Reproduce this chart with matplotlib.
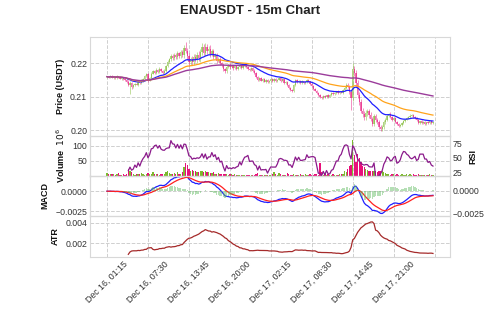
import numpy as np
import pandas as pd
import matplotlib
matplotlib.use('Agg')
import matplotlib.pyplot as plt

# ENAUSDT 15m candles, Dec 16 01:15 -> Dec 18 03:00 (200 bars)
close = [
    0.2160, 0.2158, 0.2162, 0.2157, 0.2160, 0.2156, 0.2161, 0.2158, 0.2154, 0.2157,
    0.2152, 0.2149, 0.2145, 0.2136, 0.2141, 0.2128, 0.2134, 0.2139, 0.2136, 0.2143,
    0.2140, 0.2148, 0.2152, 0.2161, 0.2167, 0.2149, 0.2156, 0.2169, 0.2177, 0.2171,
    0.2181, 0.2175, 0.2184, 0.2177, 0.2171, 0.2178, 0.2192, 0.2205, 0.2212, 0.2222,
    0.2215, 0.2226, 0.2218, 0.2230, 0.2222, 0.2233, 0.2224, 0.2245, 0.2238, 0.2222,
    0.2203, 0.2212, 0.2204, 0.2220, 0.2210, 0.2226, 0.2215, 0.2235, 0.2248, 0.2232,
    0.2250, 0.2236, 0.2244, 0.2228, 0.2236, 0.2220, 0.2224, 0.2208, 0.2213, 0.2200,
    0.2195, 0.2184, 0.2176, 0.2190, 0.2196, 0.2188, 0.2193, 0.2185, 0.2191, 0.2183,
    0.2189, 0.2193, 0.2186, 0.2191, 0.2197, 0.2188, 0.2184, 0.2179, 0.2186, 0.2178,
    0.2172, 0.2160, 0.2150, 0.2156, 0.2148, 0.2153, 0.2145, 0.2151, 0.2143, 0.2148,
    0.2153, 0.2147, 0.2154, 0.2146, 0.2151, 0.2156, 0.2148, 0.2152, 0.2140, 0.2145,
    0.2135, 0.2127, 0.2120, 0.2117, 0.2135, 0.2150, 0.2144, 0.2148, 0.2141, 0.2146,
    0.2140, 0.2145, 0.2151, 0.2146, 0.2138, 0.2131, 0.2124, 0.2118, 0.2111, 0.2104,
    0.2099, 0.2096, 0.2102, 0.2098, 0.2104, 0.2100, 0.2106, 0.2111, 0.2107, 0.2112,
    0.2116, 0.2110, 0.2115, 0.2112, 0.2119, 0.2127, 0.2136, 0.2130, 0.2114, 0.2096,
    0.2182, 0.2172, 0.2140, 0.2104, 0.2084, 0.2058, 0.2049, 0.2038, 0.2050, 0.2056,
    0.2044, 0.2034, 0.2018, 0.2041, 0.2030, 0.2024, 0.2009, 0.2002, 0.2009, 0.2023,
    0.2031, 0.2043, 0.2049, 0.2040, 0.2031, 0.2036, 0.2025, 0.2017, 0.2011, 0.2015,
    0.2021, 0.2026, 0.2031, 0.2035, 0.2039, 0.2043, 0.2046, 0.2040, 0.2035, 0.2029,
    0.2021, 0.2026, 0.2020, 0.2024, 0.2018, 0.2023, 0.2020, 0.2026, 0.2021, 0.2023,
]

# wick lengths above / below the body, in 0.0001 USDT
upper_wick = [
    2, 3, 2, 3, 2, 2, 3, 2, 3, 2, 3, 2, 3, 4, 5, 3, 3, 2, 3, 3, 2, 4, 3, 5, 3, 4, 3, 5, 4, 3, 4, 3, 5, 3, 3, 4,
    4, 5, 4, 6, 5, 6, 4, 6, 5, 7, 6,
    10, 20, 9, 8, 7, 10, 8, 9, 7, 10, 9, 14, 9, 10, 8, 9, 10, 8, 7, 8,
    6, 5, 5, 4, 5, 3, 4, 3, 4, 3, 3, 4, 3, 3, 4, 3, 3, 4, 3, 3, 2, 3, 3, 4,
    3, 3, 2, 3, 2, 3, 2, 3, 2, 3, 3, 2, 3, 2, 3, 2, 3, 2, 3, 2, 3, 2, 3, 3, 4, 3, 3, 2, 3, 2,
    3, 2, 3, 2, 2, 3, 2, 3, 2, 3, 2, 3, 3, 2, 3, 2, 3, 2, 3, 2, 3, 3, 2, 3, 4, 4, 5,
    5, 6, 18, 10, 8, 9, 10, 8, 9, 7, 10, 8, 7, 9, 6, 8, 6, 7, 5, 6, 5, 6, 5,
    4, 3, 4, 3, 3, 4, 3, 3, 2, 3, 3, 2, 3, 3, 4, 3, 3, 2, 3, 3, 2, 3, 2, 3, 2, 3, 2, 3, 2,
]
lower_wick = [
    3, 2, 3, 2, 3, 2, 2, 3, 2, 3, 3, 3, 4, 5, 27, 4, 3, 3, 2, 3, 3, 2, 3, 3, 3, 4, 3, 3, 2, 4, 3, 3, 4, 3, 4, 3,
    4, 4, 5, 4, 6, 5, 6, 4, 6, 5, 6,
    9, 8, 11, 10, 9, 8, 10, 7, 9, 8, 10, 9, 8, 10, 9, 8, 9, 7, 8, 7,
    6, 5, 6, 5, 7, 4, 5, 3, 4, 3, 4, 3, 3, 4, 3, 3, 4, 3, 3, 4, 3, 3, 4, 3,
    3, 2, 3, 2, 3, 2, 3, 2, 3, 3, 2, 3, 2, 3, 2, 3, 2, 3, 3, 2, 3, 4, 3, 2, 3, 2, 3, 2, 3, 2,
    3, 3, 2, 3, 2, 3, 2, 3, 2, 4, 3, 2, 3, 2, 3, 2, 3, 2, 3, 3, 2, 3, 2, 3, 3, 4, 4,
    6, 36, 8, 9, 10, 8, 9, 7, 10, 8, 9, 7, 8, 6, 7, 6, 5, 7, 6, 5, 6, 5, 5,
    3, 4, 3, 3, 4, 3, 2, 3, 3, 2, 3, 3, 2, 3, 3, 2, 3, 3, 2, 3, 3, 2, 3, 2, 3, 2, 3, 2, 3,
]

# volume in millions of ENA
volume = [
    11, 8, 6, 5, 6, 4, 5, 9, 4, 3, 5, 4, 6,
    24, 18, 12,
    5, 4, 6, 5, 7, 11, 5, 4, 6,
    10, 6, 8, 12, 5,
    6, 5, 4, 6, 5, 7,
    12, 15, 10, 8,
    7, 9, 6, 13, 8, 7, 12,
    30, 42, 35,
    22, 18, 20, 15, 16, 12,
    14, 16, 15, 13, 15, 12,
    13, 11, 9, 12,
    8, 7, 9, 6, 8, 7, 6,
    5, 4, 5, 6, 4, 5, 4, 3,
    4, 3, 4, 3, 4, 3, 3, 4, 3, 3, 5, 9, 4, 3, 3, 4, 3, 4, 3, 4, 5,
    12,
    6, 4, 10, 5, 4, 3, 4,
    11, 6,
    4, 3, 5, 4, 3, 4, 5, 3, 4, 6, 4, 3, 5, 4, 4, 6, 5, 4,
    42, 12,
    4, 5, 3, 8, 4, 3, 5, 4, 3, 4, 6, 5, 7,
    18, 12, 24, 32,
    35, 120,
    70, 46, 72, 61, 45, 33, 30, 22, 20, 17, 18, 16, 18, 15, 14, 17, 16, 15, 12, 10,
    6, 5, 4, 6, 5, 4, 5, 3, 4, 5, 4, 3, 5, 4, 6, 4, 5, 3, 4, 5, 3, 4, 3, 4, 3, 4, 5, 3, 4,
]

tick_labels = ['Dec 16, 01:15', 'Dec 16, 07:30', 'Dec 16, 13:45', 'Dec 16, 20:00',
               'Dec 17, 02:15', 'Dec 17, 08:30', 'Dec 17, 14:45', 'Dec 17, 21:00']

# ---- build the frame and the indicators
df = pd.DataFrame({'close': close})
df['open'] = df['close'].shift(1).fillna(df['close'].iloc[0])
top = df[['open', 'close']].max(axis=1)
bot = df[['open', 'close']].min(axis=1)
df['high'] = top + np.array(upper_wick) * 1e-4
df['low'] = bot - np.array(lower_wick) * 1e-4
df['volume'] = np.array(volume) * 1e6

ema20 = df['close'].ewm(span=20).mean()
ema50 = df['close'].ewm(span=50).mean()
ema200 = df['close'].ewm(span=200).mean()

delta = df['close'].diff()
gain = delta.where(delta > 0, 0).rolling(14).mean()
loss = (-delta.where(delta < 0, 0)).rolling(14).mean()
rsi = 100 - 100 / (1 + gain / loss)

macd = df['close'].ewm(span=12, adjust=False).mean() - df['close'].ewm(span=26, adjust=False).mean()
signal = macd.ewm(span=9, adjust=False).mean()
hist = macd - signal

prev_close = df['close'].shift(1)
tr = pd.concat([df['high'] - df['low'],
                (df['high'] - prev_close).abs(),
                (df['low'] - prev_close).abs()], axis=1).max(axis=1)
atr = tr.rolling(14).mean()

# ---- figure
plt.rcParams['font.family'] = ['Liberation Sans', 'DejaVu Sans']
plt.rcParams['font.size'] = 6

UP = '#7cb82f'
DOWN = '#e8107a'
GRID = '#cfcfcf'
SPINE = '#d8d8d8'

fig = plt.figure(figsize=(5.0, 3.12), dpi=100)
L, W = 0.18, 0.72
ax1 = fig.add_axes([L, 0.5641, W, 0.3173])
ax2 = fig.add_axes([L, 0.4359, W, 0.1282], sharex=ax1)
ax3 = fig.add_axes([L, 0.3077, W, 0.1282], sharex=ax1)
ax4 = fig.add_axes([L, 0.1763, W, 0.1314], sharex=ax1)

x = np.arange(len(df))
up = df['close'] >= df['open']
colors = np.where(up, UP, DOWN)

# candles
ax1.vlines(x, df['low'], df['high'], colors=colors, linewidth=0.6, alpha=0.55, zorder=2)
body_h = (top - bot).clip(lower=0.00003)
ax1.bar(x, body_h, bottom=bot, width=0.8, color=colors, alpha=0.6, linewidth=0, zorder=2)
ax1.plot(x, ema20, color='#1f1fff', linewidth=0.9, zorder=3)
ax1.plot(x, ema50, color='#ffa31a', linewidth=0.9, zorder=3)
ax1.plot(x, ema200, color='#9b3c9b', linewidth=1.0, zorder=3)
ax1.set_ylim(0.1982, 0.2279)
ax1.set_yticks([0.20, 0.21, 0.22])
ax1.set_yticklabels(['0.20', '0.21', '0.22'])
ax1.set_ylabel('Price (USDT)', fontweight='bold')

# volume + RSI
ax2.bar(x, df['volume'], width=0.8, color=colors, linewidth=0, zorder=2)
ax2.set_ylim(0, 133e6)
ax2.set_yticks([50e6, 100e6])
ax2.set_yticklabels(['50', '100'])
ax2.set_ylabel('Volume  $10^{6}$', fontweight='bold')
ax2r = ax2.twinx()
ax2r.plot(x, rsi, color='#8b1a8b', linewidth=0.9)
ax2r.set_ylim(18.6, 87.6)
ax2r.set_yticks([25, 50, 75])
ax2r.set_ylabel('RSI', fontweight='bold')

# MACD
ax3.plot(x, macd, color='#1f1fff', linewidth=0.9, zorder=3)
ax3.plot(x, signal, color='#ff2020', linewidth=0.9, zorder=3)
ax3.set_ylim(-0.0031, 0.0019)
ax3.set_yticks([-0.0025, 0.0])
ax3.set_yticklabels(['\u22120.0025', '0.0000'])
ax3.set_ylabel('MACD', fontweight='bold')
ax3r = ax3.twinx()
ax3r.bar(x, hist, width=0.8, color='#5cb85c', alpha=0.45, linewidth=0)
ax3r.set_ylim(-0.00272, 0.00163)
ax3r.set_yticks([-0.0025, 0.0])
ax3r.set_yticklabels(['\u22120.0025', '0.0000'])

# ATR
ax4.plot(x, atr, color='#a52a2a', linewidth=0.9)
ax4.set_ylim(0.00067, 0.00465)
ax4.set_yticks([0.002, 0.004])
ax4.set_yticklabels(['0.002', '0.004'])
ax4.set_ylabel('ATR', fontweight='bold')

ax1.set_xlim(-10.4, 209.4)
ax4.set_xticks(range(0, 201, 25))
ax4.set_xticklabels(tick_labels + [''], rotation=45, ha='center')

for a in (ax1, ax2, ax3, ax4):
    a.grid(True, linestyle='--', color=GRID, linewidth=0.7)
    a.set_axisbelow(True)
for a in (ax1, ax2, ax3, ax4, ax2r, ax3r):
    a.set_facecolor('none')
    for s in a.spines.values():
        s.set_color(SPINE)
        s.set_linewidth(0.8)
    a.tick_params(length=0, pad=2, labelsize=6.3, colors='#333333')
    a.yaxis.label.set_color('#111111')
    a.yaxis.label.set_fontsize(6.5)
for a in (ax1, ax2, ax3):
    a.tick_params(labelbottom=False)
ax2r.grid(False)
ax3r.grid(False)

fig.suptitle('ENAUSDT - 15m Chart', fontsize=9.5, fontweight='bold', y=0.985, color='#222222')
fig.savefig('out.png', dpi=100)
